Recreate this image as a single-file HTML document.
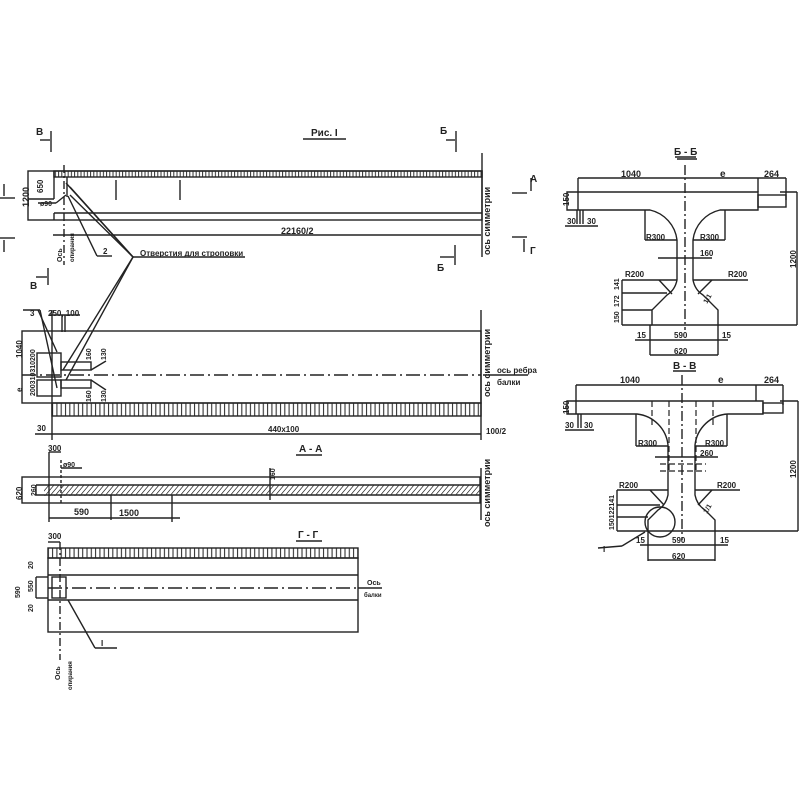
<!DOCTYPE html>
<html><head><meta charset="utf-8"><style>
html,body{margin:0;padding:0;background:#fff}
svg{display:block}
text{font-family:"Liberation Sans",sans-serif;fill:#222;font-weight:bold}
</style></head><body>
<svg width="800" height="800" viewBox="0 0 800 800" xmlns="http://www.w3.org/2000/svg">
<defs>
<pattern id="vt" width="4.3" height="10" patternUnits="userSpaceOnUse"><line x1="1" y1="0" x2="1" y2="10" stroke="#333" stroke-width="1.1"/></pattern>
<pattern id="vt2" width="3.2" height="10" patternUnits="userSpaceOnUse"><line x1="1" y1="0" x2="1" y2="10" stroke="#333" stroke-width="1"/></pattern>
<pattern id="dg" width="5" height="10" patternUnits="userSpaceOnUse" patternTransform="skewX(-40)"><line x1="1" y1="0" x2="1" y2="10" stroke="#333" stroke-width="1"/></pattern>
</defs>
<g stroke="#222" stroke-width="1.4" fill="none">
<line x1="51" y1="131" x2="51" y2="152"/><line x1="40" y1="140" x2="50" y2="140"/>
<line x1="456" y1="131" x2="456" y2="152"/><line x1="446" y1="140" x2="455" y2="140"/>
<line x1="455" y1="245" x2="455" y2="265"/><line x1="440" y1="257" x2="454" y2="257"/>
<line x1="48" y1="268" x2="48" y2="285"/><line x1="36" y1="277" x2="47" y2="277"/>
<line x1="303" y1="139" x2="346" y2="139"/>
<line x1="0" y1="198" x2="15" y2="198"/><line x1="4" y1="184" x2="4" y2="196"/>
<line x1="0" y1="238" x2="15" y2="238"/><line x1="4" y1="240" x2="4" y2="252"/>
<line x1="512" y1="193" x2="527" y2="193"/><line x1="531" y1="178" x2="531" y2="191"/>
<line x1="512" y1="237" x2="527" y2="237"/><line x1="524" y1="239" x2="524" y2="252"/>

<rect x="28" y="171" width="454" height="49"/>
<rect x="54" y="171" width="428" height="6" fill="url(#vt2)"/>
<line x1="54" y1="171" x2="54" y2="199"/><line x1="28" y1="199" x2="54" y2="199"/>
<line x1="54" y1="213" x2="482" y2="213"/><line x1="54" y1="213" x2="54" y2="220"/>
<line x1="116" y1="180" x2="116" y2="200"/><line x1="180" y1="180" x2="180" y2="200"/>
<line x1="64" y1="165" x2="64" y2="265" stroke-dasharray="8,3,2,3"/>
<line x1="67" y1="177" x2="67" y2="197"/>
<line x1="53" y1="235" x2="481" y2="235"/>
<line x1="482" y1="153" x2="482" y2="257"/>
<line x1="38" y1="203" x2="56" y2="203"/><line x1="56" y1="203" x2="66" y2="195"/>
<line x1="66" y1="183" x2="133" y2="257"/><line x1="70" y1="187" x2="133" y2="257"/>
<line x1="70" y1="195" x2="133" y2="257"/>
<line x1="68" y1="196" x2="97" y2="256"/><line x1="97" y1="256" x2="112" y2="256"/>
<line x1="133" y1="257" x2="245" y2="257"/>
<line x1="133" y1="257" x2="63" y2="370"/><line x1="133" y1="257" x2="66" y2="380"/>

<rect x="22" y="331" width="459" height="72"/>
<rect x="52" y="403" width="429" height="13" fill="url(#vt)"/>
<line x1="52" y1="310" x2="52" y2="440"/>
<line x1="22" y1="375" x2="481" y2="375" stroke-dasharray="14,4,2,4"/>
<line x1="481" y1="310" x2="481" y2="440"/>
<line x1="35" y1="434" x2="481" y2="434"/>
<line x1="23" y1="310" x2="40" y2="310"/>
<line x1="38" y1="310" x2="57" y2="352"/><line x1="40" y1="310" x2="57" y2="388"/>
<rect x="37" y="353" width="24" height="24"/><rect x="37" y="380" width="24" height="16"/>
<rect x="61" y="362" width="30" height="8"/><rect x="61" y="380" width="30" height="8"/>
<line x1="91" y1="370" x2="106" y2="361"/><line x1="91" y1="380" x2="106" y2="390"/>
<line x1="62" y1="315" x2="62" y2="332"/><line x1="65" y1="315" x2="65" y2="332"/>
<line x1="50" y1="315" x2="80" y2="315"/>
<line x1="483" y1="375" x2="528" y2="375"/>

<rect x="22" y="477" width="458" height="26"/>
<line x1="36" y1="485" x2="480" y2="485"/><line x1="36" y1="495" x2="480" y2="495"/><line x1="36" y1="485" x2="36" y2="495"/>
<path d="M44 485 L480 485 L480 495 L172 495 L111 496 L44 496Z" fill="url(#dg)" stroke="none"/>
<line x1="49" y1="452" x2="49" y2="522"/><line x1="61" y1="460" x2="61" y2="505" stroke-dasharray="3,2"/>
<line x1="49" y1="452" x2="61" y2="452"/><line x1="61" y1="468" x2="82" y2="468"/>
<line x1="111" y1="495" x2="111" y2="520"/><line x1="172" y1="495" x2="172" y2="522"/>
<line x1="49" y1="518" x2="180" y2="518"/>
<line x1="270" y1="468" x2="270" y2="500"/>
<line x1="481" y1="468" x2="481" y2="520"/>
<line x1="296" y1="455" x2="322" y2="455"/>

<rect x="48" y="558" width="310" height="74"/>
<rect x="48" y="548" width="310" height="10" fill="url(#vt)"/>
<line x1="48" y1="575" x2="358" y2="575"/><line x1="48" y1="600" x2="358" y2="600"/>
<line x1="36" y1="577" x2="48" y2="577"/><line x1="36" y1="577" x2="36" y2="598"/><line x1="36" y1="598" x2="48" y2="598"/>
<rect x="52" y="577" width="14" height="21"/>
<line x1="48" y1="588" x2="358" y2="588" stroke-dasharray="14,4,2,4"/>
<line x1="60" y1="542" x2="60" y2="660" stroke-dasharray="8,3,2,3"/>
<line x1="48" y1="542" x2="60" y2="542"/>
<line x1="68" y1="600" x2="95" y2="648"/><line x1="95" y1="648" x2="117" y2="648"/>
<line x1="358" y1="588" x2="382" y2="588"/>
<line x1="296" y1="541" x2="322" y2="541"/>

<line x1="677" y1="159" x2="697" y2="159"/>
<line x1="685" y1="165" x2="685" y2="330" stroke-dasharray="10,3,2,3"/>
<path d="M567 192 L758 192 L758 210 L720 210 A35 35 0 0 0 693 240 L693 280 Q695 290 703 295 L718 310 L718 325 L652 325 L652 310 L667 295 Q675 290 677 280 L677 240 A35 35 0 0 0 650 210 L567 210 Z"/>
<rect x="758" y="195" width="28" height="12"/>
<line x1="578" y1="178" x2="786" y2="178"/><line x1="578" y1="178" x2="578" y2="210"/><line x1="758" y1="178" x2="758" y2="192"/><line x1="786" y1="178" x2="786" y2="200"/>
<line x1="780" y1="192" x2="797" y2="192"/><line x1="797" y1="192" x2="797" y2="325"/><line x1="718" y1="325" x2="797" y2="325"/>
<line x1="577" y1="210" x2="577" y2="224"/><line x1="580" y1="210" x2="580" y2="224"/><line x1="583" y1="210" x2="583" y2="224"/>
<line x1="565" y1="226" x2="598" y2="226"/>
<line x1="645" y1="210" x2="645" y2="240"/><line x1="645" y1="240" x2="677" y2="240"/>
<line x1="725" y1="210" x2="725" y2="240"/><line x1="693" y1="240" x2="725" y2="240"/>
<line x1="658" y1="258" x2="712" y2="258"/>
<line x1="622" y1="280" x2="677" y2="280"/><line x1="693" y1="280" x2="748" y2="280"/>
<line x1="659" y1="280" x2="672" y2="294"/><line x1="712" y1="280" x2="698" y2="294"/>
<line x1="622" y1="293" x2="667" y2="293"/><line x1="622" y1="310" x2="652" y2="310"/>
<line x1="622" y1="280" x2="622" y2="325"/><line x1="622" y1="325" x2="652" y2="325"/>
<line x1="635" y1="340" x2="728" y2="340"/><line x1="650" y1="325" x2="650" y2="355"/><line x1="718" y1="325" x2="718" y2="355"/><line x1="650" y1="355" x2="718" y2="355"/>
<line x1="675" y1="157" x2="696" y2="157"/>

<line x1="673" y1="371" x2="696" y2="371"/>
<line x1="682" y1="375" x2="682" y2="540" stroke-dasharray="10,3,2,3"/>
<path d="M567 401 L763 401 L763 414 L728 414 A35 35 0 0 0 695 445 L695 495 Q697 505 705 510 L715 520 L715 531 L648 531 L648 520 L658 510 Q666 505 668 495 L668 445 A35 35 0 0 0 637 414 L567 414 Z"/>
<rect x="763" y="403" width="20" height="10"/>
<line x1="576" y1="385" x2="783" y2="385"/><line x1="576" y1="385" x2="576" y2="414"/><line x1="756" y1="385" x2="756" y2="401"/><line x1="783" y1="385" x2="783" y2="405"/>
<line x1="780" y1="401" x2="798" y2="401"/><line x1="798" y1="401" x2="798" y2="531"/><line x1="715" y1="531" x2="798" y2="531"/>
<g stroke-dasharray="6,3" stroke-width="1.2"><line x1="652" y1="401" x2="652" y2="425"/><line x1="669" y1="401" x2="669" y2="470"/><line x1="696" y1="401" x2="696" y2="470"/><line x1="713" y1="401" x2="713" y2="425"/>
<line x1="660" y1="464" x2="706" y2="464"/><line x1="660" y1="471" x2="706" y2="471"/></g>
<line x1="655" y1="457" x2="718" y2="457"/>
<line x1="578" y1="414" x2="578" y2="428"/><line x1="581" y1="414" x2="581" y2="428"/>
<line x1="565" y1="430" x2="594" y2="430"/>
<line x1="636" y1="414" x2="636" y2="446"/><line x1="636" y1="446" x2="668" y2="446"/>
<line x1="727" y1="414" x2="727" y2="446"/><line x1="695" y1="446" x2="727" y2="446"/>
<line x1="617" y1="490" x2="668" y2="490"/><line x1="695" y1="490" x2="740" y2="490"/>
<line x1="650" y1="490" x2="664" y2="505"/><line x1="712" y1="490" x2="698" y2="505"/>
<line x1="617" y1="505" x2="660" y2="505"/><line x1="617" y1="517" x2="648" y2="517"/>
<line x1="617" y1="490" x2="617" y2="531"/><line x1="617" y1="531" x2="648" y2="531"/>
<circle cx="660" cy="522" r="15"/>
<line x1="645" y1="532" x2="622" y2="546"/><line x1="598" y1="548" x2="622" y2="546"/>
<line x1="640" y1="545" x2="728" y2="545"/><line x1="648" y1="531" x2="648" y2="561"/><line x1="715" y1="531" x2="715" y2="561"/><line x1="648" y1="560" x2="715" y2="560"/>
</g>

<g font-size="9">
<text x="36" y="135" font-size="10">В</text>
<text x="311" y="136" font-size="10">Рис. I</text>
<text x="440" y="134" font-size="10">Б</text>
<text x="437" y="271" font-size="10">Б</text>
<text x="30" y="289" font-size="10">В</text>
<text x="530" y="182" font-size="10">А</text>
<text x="530" y="254" font-size="10">Г</text>
<text x="281" y="234">22160/2</text>
<text x="140" y="256" font-size="8">Отверстия для строповки</text>
<text x="103" y="254" font-size="8">2</text>
<text x="40" y="206" font-size="7">ø90</text>
<text transform="translate(29,207) rotate(-90)">1200</text>
<text transform="translate(43,193) rotate(-90)" font-size="8">650</text>
<text transform="translate(62,262) rotate(-90)" font-size="7">Ось</text>
<text transform="translate(74,262) rotate(-90)" font-size="6">опирания</text>
<text transform="translate(490,255) rotate(-90)" font-size="9">ось симметрии</text>
<text transform="translate(490,397) rotate(-90)" font-size="9">ось симметрии</text>
<text x="497" y="373" font-size="8">ось ребра</text>
<text x="497" y="385" font-size="8">балки</text>
<text x="30" y="316" font-size="8">3</text>
<text x="48" y="316" font-size="8">250, 100</text>
<text transform="translate(22,358) rotate(-90)" font-size="8">1040</text>
<text transform="translate(22,392) rotate(-90)" font-size="8">e</text>
<text transform="translate(35,396) rotate(-90)" font-size="7">200310310200</text>
<text transform="translate(91,360) rotate(-90)" font-size="7">160</text>
<text transform="translate(106,360) rotate(-90)" font-size="7">130</text>
<text transform="translate(91,402) rotate(-90)" font-size="7">160</text>
<text transform="translate(106,402) rotate(-90)" font-size="7">130</text>
<text x="37" y="431" font-size="8">30</text>
<text x="268" y="432" font-size="8">440x100</text>
<text x="486" y="434" font-size="8">100/2</text>
<text x="299" y="452" font-size="10">А - А</text>
<text x="48" y="451" font-size="8">300</text>
<text x="63" y="467" font-size="7">ø90</text>
<text transform="translate(22,500) rotate(-90)" font-size="8">620</text>
<text transform="translate(36,496) rotate(-90)" font-size="7">260</text>
<text transform="translate(275,480) rotate(-90)" font-size="7">160</text>
<text x="74" y="515" font-size="9">590</text>
<text x="119" y="516" font-size="9">1500</text>
<text transform="translate(490,527) rotate(-90)" font-size="9">ось симметрии</text>
<text x="298" y="538" font-size="10">Г - Г</text>
<text x="48" y="539" font-size="8">300</text>
<text transform="translate(33,569) rotate(-90)" font-size="7">20</text>
<text transform="translate(20,598) rotate(-90)" font-size="7">590</text>
<text transform="translate(33,592) rotate(-90)" font-size="7">550</text>
<text transform="translate(33,612) rotate(-90)" font-size="7">20</text>
<text x="367" y="585" font-size="7">Ось</text>
<text x="364" y="597" font-size="6">балки</text>
<text x="101" y="646" font-size="8">I</text>
<text transform="translate(60,680) rotate(-90)" font-size="7">Ось</text>
<text transform="translate(72,690) rotate(-90)" font-size="6">опирания</text>
<text x="674" y="155" font-size="10">Б - Б</text>
<text x="621" y="177" font-size="9">1040</text>
<text x="720" y="177" font-size="10">e</text>
<text x="764" y="177" font-size="9">264</text>
<text transform="translate(569,206) rotate(-90)" font-size="8">150</text>
<text x="567" y="224" font-size="8">30</text><text x="587" y="224" font-size="8">30</text>
<text x="646" y="240" font-size="8">R300</text><text x="700" y="240" font-size="8">R300</text>
<text x="700" y="256" font-size="8">160</text>
<text x="625" y="277" font-size="8">R200</text><text x="728" y="277" font-size="8">R200</text>
<text transform="translate(707,304) rotate(-60)" font-size="7">1/1</text>
<text transform="translate(619,290) rotate(-90)" font-size="7">141</text>
<text transform="translate(619,307) rotate(-90)" font-size="7">172</text>
<text transform="translate(619,323) rotate(-90)" font-size="7">150</text>
<text transform="translate(796,268) rotate(-90)" font-size="8">1200</text>
<text x="637" y="338" font-size="8">15</text><text x="674" y="338" font-size="8">590</text><text x="722" y="338" font-size="8">15</text>
<text x="674" y="354" font-size="8">620</text>
<text x="673" y="369" font-size="10">В - В</text>
<text x="620" y="383" font-size="9">1040</text>
<text x="718" y="383" font-size="10">e</text>
<text x="764" y="383" font-size="9">264</text>
<text transform="translate(569,414) rotate(-90)" font-size="8">150</text>
<text x="565" y="428" font-size="8">30</text><text x="584" y="428" font-size="8">30</text>
<text x="638" y="446" font-size="8">R300</text><text x="705" y="446" font-size="8">R300</text>
<text x="700" y="456" font-size="8">260</text>
<text x="619" y="488" font-size="8">R200</text><text x="717" y="488" font-size="8">R200</text>
<text transform="translate(707,514) rotate(-60)" font-size="7">1/1</text>
<text transform="translate(614,530) rotate(-90)" font-size="7">150122141</text>
<text transform="translate(796,478) rotate(-90)" font-size="8">1200</text>
<text x="636" y="543" font-size="8">15</text><text x="672" y="543" font-size="8">590</text><text x="720" y="543" font-size="8">15</text>
<text x="672" y="559" font-size="8">620</text>
<text x="603" y="552" font-size="8">I</text>
</g>
</svg>
</body></html>
